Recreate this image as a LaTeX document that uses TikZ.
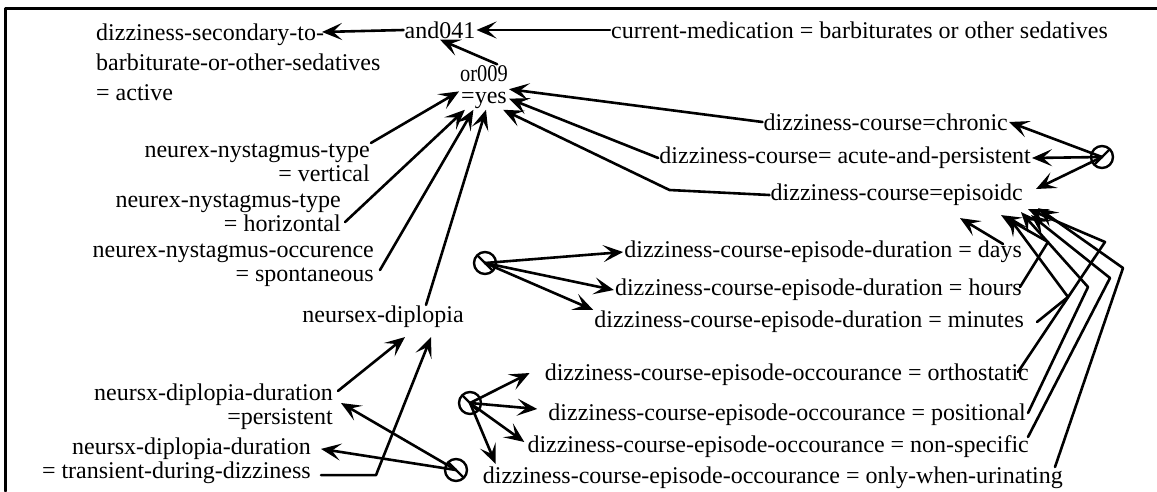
\documentclass[tikz,border=0pt]{standalone}
\usepackage{fontspec}
\usepackage{graphicx}
\setmainfont{Liberation Serif}
\usetikzlibrary{arrows.meta,calc}

\begin{document}
\begin{tikzpicture}[x=1pt,y=-1pt,line cap=round,line join=round,
  lbl/.style={inner sep=1pt,font=\fontsize{24}{24}\selectfont},
  arr/.style={-{Stealth[length=20pt,width=17pt,inset=9pt]},line width=2.6pt},
  junc/.style={circle,draw,line width=2.4pt,minimum size=22pt,inner sep=0pt},
  slashr/.style={path picture={\draw[line width=2.4pt] (path picture bounding box.south west) -- (path picture bounding box.north east);}},
  slashl/.style={path picture={\draw[line width=2.4pt] (path picture bounding box.north west) -- (path picture bounding box.south east);}}]
\useasboundingbox (0,0) rectangle (1157,491);
\draw[line width=3pt] (5,491) -- (5,8) -- (1157,8);
% top row
\node[lbl,anchor=west,align=left,font=\fontsize{24}{30}\selectfont] (dsec) at (95,62) {dizziness-secondary-to-\\barbiturate-or-other-sedatives\\= active};
\coordinate (dsecend) at (322,32);
\node[lbl] (and041) at (440,30) {and041};
\node[lbl,anchor=west] (cmed) at (610,30) {current-medication = barbiturates or other sedatives};
\node[lbl,align=center,font=\fontsize{24}{22}\selectfont] (or009) at (484,87) {\scalebox{0.85}[1]{or009}\\=yes};
% left column
\node[lbl,anchor=east,align=right] (nyt1) at (371,163) {neurex-nystagmus-type\\= vertical};
\node[lbl,anchor=east,align=right] (nyt2) at (342,213) {neurex-nystagmus-type\\= horizontal};
\node[lbl,anchor=east,align=right] (nyo) at (375,265) {neurex-nystagmus-occurence\\= spontaneous};
\node[lbl] (dip) at (383,317) {neursex-diplopia};
\node[lbl,anchor=east,align=right] (dpd1) at (334,407) {neursx-diplopia-duration\\=persistent};
\node[lbl,anchor=east,align=right] (dpd2) at (312,461) {neursx-diplopia-duration\\= transient-during-dizziness};
% right column
\node[lbl,anchor=east] (chr) at (1009,122) {dizziness-course=chronic};
\node[lbl,anchor=east] (acu) at (1032,158) {dizziness-course= acute-and-persistent};
\node[lbl,anchor=east] (epi) at (1024,195) {dizziness-course=episoidc};
\node[lbl,anchor=east] (days) at (1023,252) {dizziness-course-episode-duration = days};
\node[lbl,anchor=east] (hours) at (1023,290) {dizziness-course-episode-duration = hours};
\node[lbl,anchor=east] (mins) at (1025,322) {dizziness-course-episode-duration = minutes};
\node[lbl,anchor=east] (orth) at (1030,375) {dizziness-course-episode-occourance = orthostatic};
\node[lbl,anchor=east] (posi) at (1027,415) {dizziness-course-episode-occourance = positional};
\node[lbl,anchor=east] (nons) at (1030,447) {dizziness-course-episode-occourance = non-specific};
\node[lbl,anchor=east] (urin) at (1064,478) {dizziness-course-episode-occourance = only-when-urinating};
% junctions
\node[junc,slashr] (c1) at (1102,157) {};
\node[junc,slashl] (c2) at (485,263) {};
\node[junc,slashl] (c3) at (470,403) {};
\node[junc,slashl] (c4) at (456,470) {};
% and / or
\draw[arr] (and041.west) -- (dsecend);
\draw[arr] (cmed.west) -- (and041.east);
\draw[arr] (or009.60) -- (and041.south);
\draw[arr] (nyt1.north east) -- (or009.190);
\draw[arr] ($(nyt2.south east)+(3,-11)$) -- (or009.230);
\draw[arr] ($(nyo.east)+(5,5)$) -- (or009.245);
\draw[arr] ($(dip.north)+(43,0)$) -- (or009.275);
\draw[arr] (chr.west) -- (or009.355);
\draw[arr] (acu.west) -- (or009.335);
\draw[arr] (epi.west) -- ++(-100,-5) -- (or009.310);
% diplopia
\draw[arr] ($(dpd1.north east)+(4,8)$) -- ($(dip.south)+(22,8)$);
\draw[arr] ($(dpd2.south east)+(9,-10)$) -- ++(55,0) -- ($(dip.south)+(48,8)$);
\draw[arr] (c4.center) -- ($(dpd1.east)+(7,-4)$);
\draw[arr] (c4.center) -- ($(dpd2.north east)+(9,12)$);
% course
\draw[arr] (c1.center) -- (chr.east);
\draw[arr] (c1.center) -- (acu.east);
\draw[arr] (c1.center) -- ($(epi.east)+(12,-6)$);
\draw[arr] (c2.center) -- (days.west);
\draw[arr] (c2.center) -- (hours.west);
\draw[arr] (c2.center) -- (mins.north west);
\draw[arr] (c3.center) -- ($(orth.west)+(-14,-2)$);
\draw[arr] (c3.center) -- ($(posi.west)+(-10,-6)$);
\draw[arr] (c3.center) -- ($(nons.west)+(-2,-5)$);
\draw[arr] (c3.center) -- ($(urin.north west)+(14,-2)$);
% episode bundle
\draw[arr] ($(days.east)+(-20,-8)$) -- ($(epi.south east)+(-64,11)$);
\draw[arr] ($(hours.east)+(-3,-3)$) -- (1048,242) -- ($(epi.south east)+(-23,8)$);
\draw[arr] ($(mins.east)+(12,0)$) -- (1068,297) -- ($(epi.south east)+(-16,9)$);
\draw[arr] ($(orth.east)+(-12,-3)$) -- (1105,242) -- ($(epi.south east)+(4,2)$);
\draw[arr] ($(posi.east)+(1,-2)$) -- (1088,287) -- ($(epi.south east)+(-3,5)$);
\draw[arr] ($(nons.east)+(-2,-10)$) -- (1110,278) -- ($(epi.south east)+(7,8)$);
\draw[arr] ($(urin.east)+(-9,-11)$) -- (1123,268) -- ($(epi.south east)+(14,1)$);
\end{tikzpicture}
\end{document}
